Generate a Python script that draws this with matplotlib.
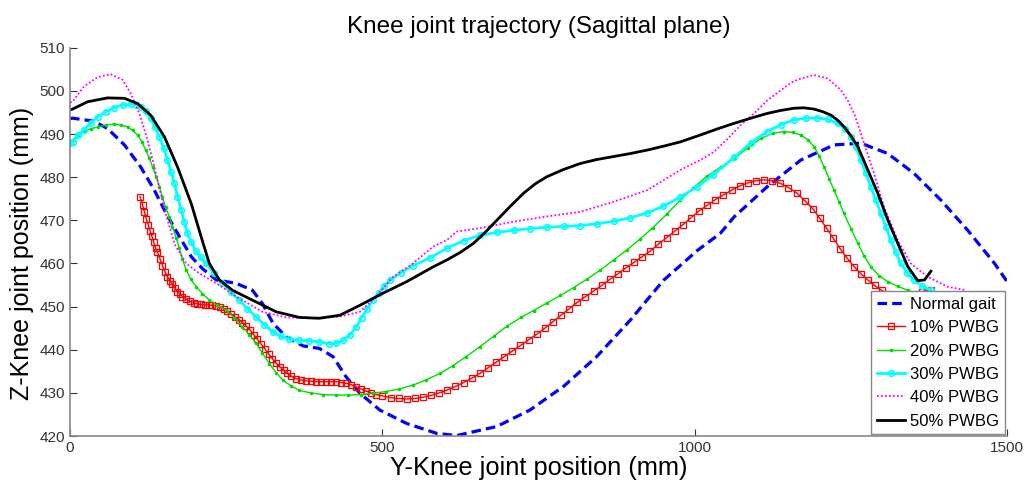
import matplotlib
matplotlib.use("Agg")
import matplotlib.pyplot as plt

plt.rcParams['font.family'] = ['Liberation Sans', 'DejaVu Sans']

title = "Knee joint trajectory (Sagittal plane)"
xlabel = "Y-Knee joint position (mm)"
ylabel = "Z-Knee joint position (mm)"
labels = ["Normal gait", "10% PWBG", "20% PWBG", "30% PWBG", "40% PWBG", "50% PWBG"]
xticks = [0, 500, 1000, 1500]
yticks = [420, 430, 440, 450, 460, 470, 480, 490, 500, 510]

normal_x = [0, 4, 38, 60, 87, 113, 135, 151, 172, 194, 212, 234, 266, 292, 308, 325, 346, 373,
            399, 421, 442, 464, 496, 539, 587, 619, 683, 736, 790, 843, 897, 950, 1004, 1041,
            1063, 1116, 1170, 1223, 1266, 1309, 1351, 1394, 1437, 1480, 1500]
normal_z = [493.6, 493.7, 493.0, 491.3, 487.5, 482.4, 477.0, 472.4, 467.0, 461.6, 458.8, 456.2,
            455.4, 453.8, 450.7, 446.1, 443.0, 440.9, 440.3, 438.4, 433.7, 429.9, 426.0, 422.9,
            420.6, 420.1, 422.2, 426.0, 431.5, 438.4, 446.9, 456.1, 463.0, 467.0, 470.8, 477.8,
            484.0, 487.5, 487.9, 485.5, 480.9, 474.7, 467.7, 460.0, 455.8]

pw10_x = [112, 116, 119, 122, 125, 128, 131, 134, 137, 140, 144, 148, 152, 156, 160, 164, 168,
          172, 176, 180, 186, 192, 198, 204, 210, 216, 222, 228, 234, 240, 246, 252, 258, 264,
          270, 276, 282, 288, 294, 300, 306, 312, 318, 324, 330, 336, 342, 348, 354, 362, 370,
          378, 386, 394, 402, 410, 418, 426, 434, 442, 450, 458, 466, 474, 482, 490,
          500, 513, 526, 539, 552, 565, 578, 591, 604, 617, 630, 643, 656, 669, 682, 695, 708,
          721, 734, 747, 760, 773, 786, 799, 812, 825, 838, 851, 864, 877, 890, 903, 916, 929,
          942, 955, 968, 981, 994, 1007, 1020, 1033, 1046, 1059, 1072, 1085, 1098, 1111, 1124,
          1137, 1150, 1163, 1176, 1189, 1200, 1211, 1222, 1233, 1244, 1255, 1266, 1277, 1288,
          1299, 1310, 1321, 1332, 1343, 1354, 1364, 1372, 1378]
pw10_z = [475.5, 473.6, 472.0, 470.4, 469.0, 467.6, 466.3, 464.9, 463.6, 462.6, 461.1, 459.5,
          458.1, 456.9, 456.0, 455.2, 454.3, 453.5, 452.9, 452.3, 451.7, 451.2, 450.8, 450.6,
          450.5, 450.4, 450.4, 450.3, 450.1, 449.8, 449.4, 449.0, 448.3, 447.6, 447.0, 446.3,
          445.5, 444.6, 443.5, 442.4, 441.3, 440.2, 439.0, 437.9, 436.9, 436.0, 435.2, 434.5,
          433.9, 433.3, 433.0, 432.8, 432.7, 432.6, 432.6, 432.6, 432.6, 432.6, 432.4, 432.2,
          431.9, 431.4, 430.9, 430.4, 430.0, 429.6,
          429.3, 428.9, 428.7, 428.6, 428.7, 429.0, 429.4, 430.0, 430.7, 431.5, 432.4, 433.4,
          434.5, 435.8, 437.1, 438.4, 439.7, 441.0, 442.3, 443.6, 445.0, 446.5, 448.0, 449.5,
          451.0, 452.3, 453.6, 454.9, 456.3, 457.6, 459.0, 460.3, 461.6, 462.9, 464.5, 466.0,
          467.5, 469.0, 470.6, 472.2, 473.5, 474.8, 475.9, 477.0, 478.0, 478.7, 479.2, 479.4,
          479.2, 478.6, 477.6, 476.4, 474.6, 472.7, 470.5, 468.2, 465.8, 463.4, 461.2, 459.3,
          457.6, 456.2, 454.9, 453.8, 453.0, 452.6, 452.5, 452.6, 452.9, 453.4, 453.7, 453.8]

pw20_x = [0, 4, 13, 22, 33, 44, 57, 70, 81, 92, 100, 108, 115, 121, 127, 132, 138, 143, 148,
          153, 159, 164, 170, 175, 180, 186, 193, 202, 212, 223, 236, 250, 263, 276, 287, 298,
          308, 319, 330, 341, 354, 367, 385, 405, 425, 445, 465, 485, 505, 527, 549, 570, 592,
          613, 634, 656, 678, 700, 722, 742, 763, 785, 806, 827, 849, 870, 891, 912, 933, 955,
          977, 998, 1020, 1042, 1063, 1085, 1106, 1125, 1143, 1157, 1170, 1181, 1191, 1199,
          1207, 1215, 1223, 1231, 1239, 1250, 1261, 1271, 1282, 1295, 1309, 1325, 1341, 1355,
          1368]
pw20_z = [488.4, 488.6, 489.7, 490.6, 491.2, 491.7, 492.1, 492.3, 492.1, 491.7, 490.9, 489.8,
          488.2, 486.3, 484.4, 482.4, 480.1, 477.8, 475.4, 473.1, 470.8, 468.5, 465.9, 463.5,
          461.0, 458.5, 456.4, 454.6, 453.0, 451.5, 450.3, 449.2, 447.4, 445.3, 443.5, 441.5,
          439.2, 436.8, 434.7, 432.9, 431.6, 430.6, 430.0, 429.6, 429.5, 429.5, 429.6, 429.9,
          430.3, 430.9, 431.8, 433.0, 434.5, 436.3, 438.4, 440.7, 443.1, 445.5, 447.5, 449.1,
          450.8, 452.6, 454.4, 456.3, 458.5, 460.8, 463.1, 465.6, 468.3, 471.4, 474.7, 477.6,
          480.3, 482.4, 484.3, 486.8, 489.0, 490.2, 490.6, 490.4, 489.8, 488.7, 487.1, 485.0,
          482.4, 479.7, 477.0, 474.3, 471.6, 468.1, 464.7, 461.8, 459.2, 457.2, 455.8, 454.7,
          453.8, 453.0, 452.3]

pw30_x = [0, 4, 13, 22, 33, 44, 57, 70, 84, 97, 105, 113, 121, 129, 136, 143, 150, 156, 162,
          167, 172, 178, 183, 188, 194, 201, 209, 218, 231, 244, 257, 271, 284, 298, 311, 325,
          338, 351, 367, 383, 399, 415, 426, 437, 448, 458, 467, 476, 485, 494, 503, 512, 530,
          549, 576, 603, 630, 656, 683, 710, 736, 763, 790, 817, 843, 870, 897, 924, 950, 977,
          1004, 1030, 1063, 1090, 1116, 1138, 1159, 1178, 1196, 1213, 1229, 1240, 1250, 1258,
          1266, 1274, 1282, 1290, 1298, 1306, 1314, 1322, 1330, 1340, 1351, 1364, 1378, 1390,
          1400]
pw30_z = [488.0, 488.2, 489.7, 491.0, 492.6, 494.0, 495.2, 496.1, 496.7, 496.9, 496.8, 496.4,
          495.3, 493.7, 491.7, 489.4, 486.8, 484.0, 481.2, 478.6, 475.5, 472.4, 469.6, 467.0,
          465.0, 463.0, 461.4, 460.0, 457.7, 455.4, 453.4, 451.5, 449.5, 447.6, 445.8, 444.1,
          443.1, 442.4, 442.2, 442.1, 441.8, 441.4, 441.5, 442.2, 443.4, 445.3, 447.4, 449.5,
          451.5, 453.2, 454.7, 456.1, 457.9, 459.5, 461.3, 463.5, 465.3, 466.5, 467.2, 467.7,
          468.1, 468.4, 468.6, 468.8, 469.2, 469.8, 470.6, 471.7, 473.3, 475.4, 477.8, 480.6,
          484.6, 488.0, 490.6, 492.2, 493.3, 493.7, 493.8, 493.4, 492.5, 491.3, 489.4, 487.0,
          484.0, 481.0, 477.8, 474.7, 471.6, 468.5, 465.4, 462.6, 460.0, 457.9, 456.2, 454.8,
          453.8, 452.7, 451.9]

pw40_x = [0, 4, 22, 44, 65, 84, 97, 111, 124, 135, 145, 156, 168, 186, 207, 234, 271, 308, 346,
          389, 432, 464, 490, 517, 549, 581, 603, 619, 656, 710, 763, 817, 870, 924, 977, 1009,
          1030, 1052, 1073, 1095, 1116, 1138, 1155, 1170, 1191, 1213, 1234, 1245, 1255, 1263,
          1271, 1287, 1303, 1325, 1346, 1373, 1405, 1434]
pw40_z = [497.3, 497.5, 501.0, 503.2, 503.9, 502.6, 499.5, 494.8, 488.6, 482.4, 476.3, 470.1,
          464.3, 460.0, 457.7, 455.4, 451.9, 448.8, 447.5, 447.3, 447.7, 448.8, 452.3, 456.9,
          460.0, 463.9, 465.4, 467.4, 468.2, 469.7, 470.9, 472.0, 474.3, 477.0, 481.7, 484.0,
          485.8, 488.8, 492.0, 494.8, 497.8, 500.2, 502.0, 502.9, 503.7, 502.9, 500.2, 497.8,
          494.8, 491.5, 487.9, 480.9, 473.2, 465.4, 460.0, 456.9, 454.6, 453.8]

pw50_x = [0, 4, 28, 60, 87, 108, 129, 151, 172, 194, 213, 223, 239, 260, 292, 330, 367, 399,
          432, 464, 498, 539, 581, 603, 625, 646, 665, 683, 705, 726, 745, 763, 790, 817, 843,
          870, 897, 924, 950, 977, 1009, 1036, 1063, 1090, 1116, 1138, 1159, 1175, 1191, 1205,
          1218, 1229, 1239, 1250, 1261, 1277, 1293, 1309, 1325, 1341, 1357, 1368, 1378]
pw50_z = [495.6, 495.8, 497.5, 498.4, 498.3, 497.1, 494.4, 489.4, 482.4, 473.9, 464.7, 460.0,
          456.2, 453.8, 451.5, 448.8, 447.5, 447.3, 448.0, 450.3, 452.9, 455.8, 459.2, 460.8,
          462.6, 464.7, 467.3, 470.0, 473.3, 476.3, 478.5, 480.1, 481.8, 483.2, 484.1, 484.8,
          485.5, 486.3, 487.2, 488.2, 489.8, 491.2, 492.5, 493.7, 494.8, 495.5, 496.0, 496.1,
          495.8, 495.2, 494.4, 493.2, 491.7, 489.6, 487.1, 481.7, 476.3, 470.1, 464.7, 459.3,
          456.0, 456.2, 458.2]

fig = plt.figure(figsize=(10.27, 4.83), dpi=100)
ax = fig.add_axes([0.0682, 0.0973, 0.9124, 0.8036])

ax.plot(normal_x, normal_z, color='#0000ff', ls=(0, (3, 1.6)), lw=2.3, label=labels[0])
ax.plot(pw10_x, pw10_z, color='#ff0000', ls='-', lw=1.0, marker='s', ms=4.0,
        mfc='none', mec='#ff0000', mew=0.9, label=labels[1])
ax.plot(pw20_x, pw20_z, color='#00dd00', ls='-', lw=1.0, marker='.', ms=3.2,
        label=labels[2])
ax.plot(pw30_x, pw30_z, color='#00ffff', ls='-', lw=2.0, marker='o', ms=4.0,
        mfc='none', mec='#00ffff', mew=1.2, label=labels[3])
ax.plot(pw40_x, pw40_z, color='#ff00ff', ls=(0, (1, 1.2)), lw=1.3, label=labels[4])
ax.plot(pw50_x, pw50_z, color='#000000', ls='-', lw=2.0, label=labels[5])

ax.set_xlim(0, 1500)
ax.set_ylim(420, 510)
ax.set_xticks(xticks)
ax.set_yticks(yticks)
ax.tick_params(direction='in', length=5, labelsize=11, colors='#333333', width=0.8)
for s in ['top', 'right']:
    ax.spines[s].set_visible(False)
for s in ['left', 'bottom']:
    ax.spines[s].set_color('#888888')
    ax.spines[s].set_linewidth(1.2)

ax.set_title(title, fontsize=17.5, pad=11)
ax.set_xlabel(xlabel, fontsize=18.3, labelpad=1)
ax.set_ylabel(ylabel, fontsize=18, labelpad=5)
ax.yaxis.set_label_coords(-0.038, 0.47)

leg = ax.legend(loc='lower right', bbox_to_anchor=(1.0, 0.0), borderaxespad=0.1,
                fontsize=12, handlelength=1.7, handletextpad=0.3, labelspacing=0.5,
                borderpad=0.35, fancybox=False, framealpha=1)
leg.get_frame().set_edgecolor('#888888')
leg.get_frame().set_linewidth(1.0)

fig.savefig("out.png", dpi=100)
